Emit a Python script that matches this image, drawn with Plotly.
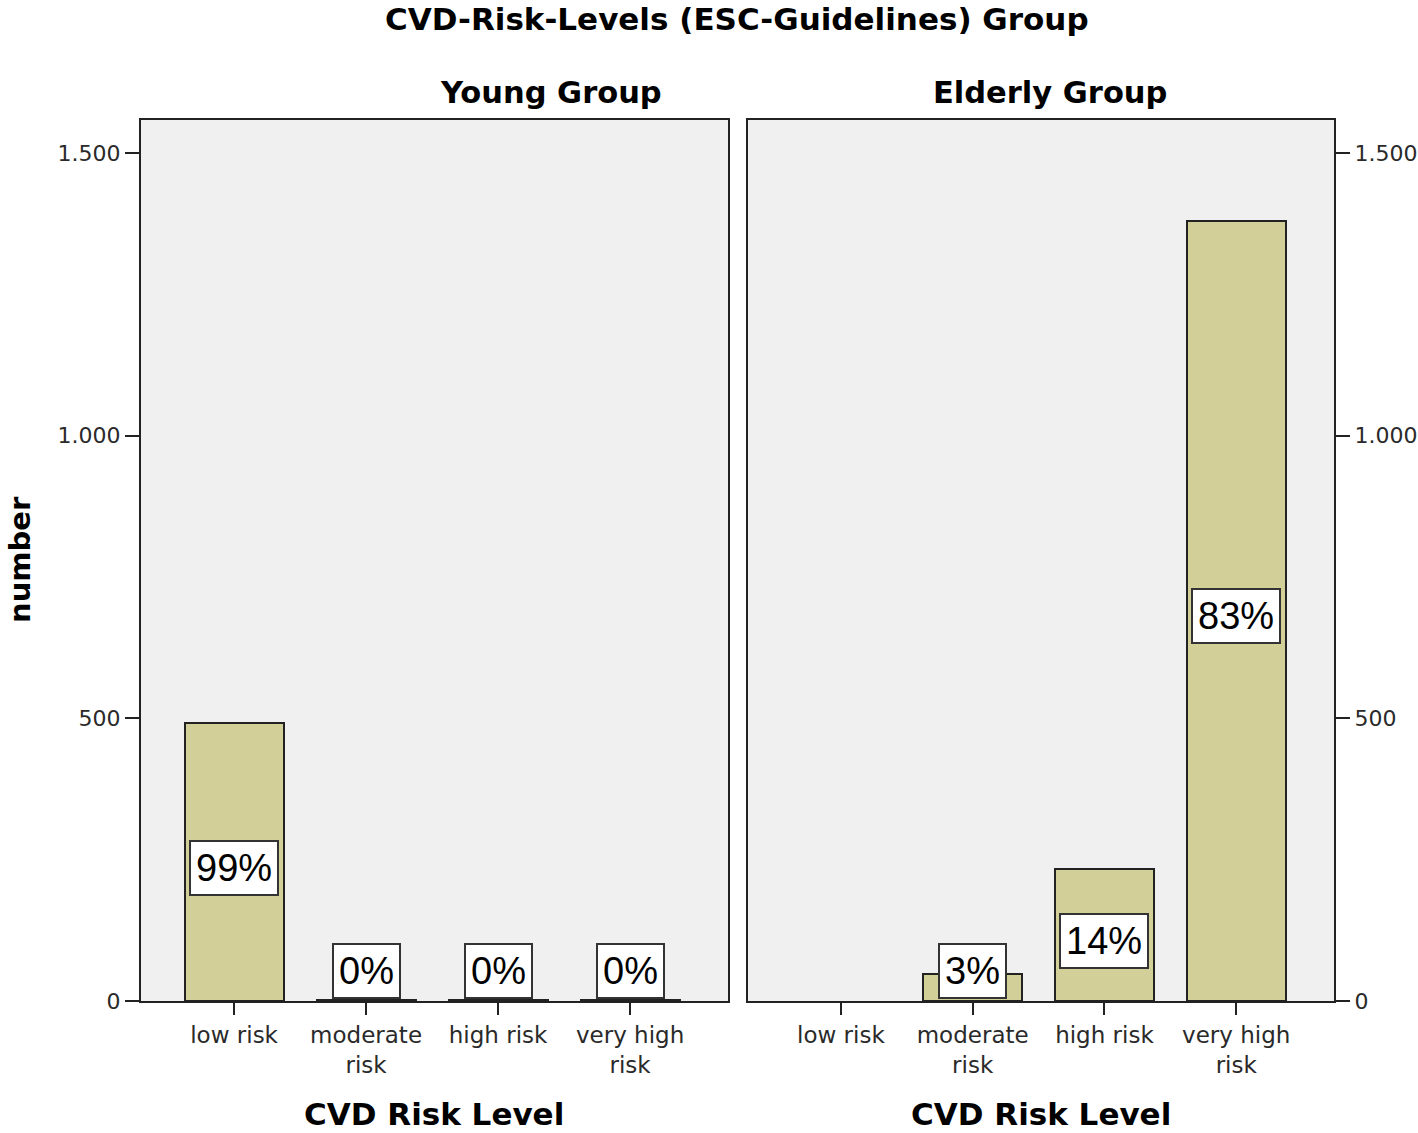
import plotly.graph_objects as go

categories = ["low risk", "moderate<br>risk", "high risk", "very high<br>risk"]
young_counts = [492, 2, 1, 1]
elderly_counts = [0, 48, 233, 1380]
young_pct = ["99%", "0%", "0%", "0%"]
elderly_pct = [None, "3%", "14%", "83%"]
y_tickvals = [0, 500, 1000, 1500]
y_ticktext = ["0", "500", "1.000", "1.500"]

W, H = 1418, 1133
BAR = "#D3CF98"
SANS = "DejaVu Sans, Verdana, sans-serif"
ARIAL = "Liberation Sans, Arial, sans-serif"


def px(x):
    return x / W


def py(y):
    return 1 - y / H


def bar_trace(counts, xa, ya):
    return go.Bar(x=list(range(len(counts))), y=counts, width=0.75,
                  marker=dict(color=BAR,
                              line=dict(color="#222", width=[2 if v > 0 else 0 for v in counts])),
                  xaxis=xa, yaxis=ya, showlegend=False, hoverinfo="y")


fig = go.Figure()
fig.add_trace(bar_trace(young_counts, "x", "y"))
fig.add_trace(bar_trace(elderly_counts, "x2", "y2"))

xr = [-0.705, 3.742]
yr = [0, 1558]
common_x = dict(range=xr, tickmode="array", tickvals=list(range(4)), ticktext=categories,
                ticks="outside", ticklen=12, tickwidth=2, tickcolor="#222",
                showline=True, linecolor="#222", linewidth=2, mirror=True,
                showgrid=False, zeroline=False, fixedrange=True, automargin=False,
                tickfont=dict(family=SANS, size=23, color="#2a2a2a"))
common_y = dict(range=yr, tickmode="array", tickvals=y_tickvals, ticktext=y_ticktext,
                ticks="outside", ticklen=14, tickwidth=2, tickcolor="#222",
                showline=True, linecolor="#222", linewidth=2, mirror=True,
                showgrid=False, zeroline=False, fixedrange=True, automargin=False,
                tickfont=dict(family=SANS, size=22, color="#2a2a2a"))

fig.update_layout(
    width=W, height=H,
    margin=dict(l=0, r=0, t=0, b=0, pad=0, autoexpand=False),
    paper_bgcolor="white", plot_bgcolor="#F0F0F0",
    bargap=0,
    xaxis=dict(domain=[px(141), px(728)], anchor="y", **common_x),
    yaxis=dict(domain=[py(1001), py(120)], anchor="x", side="left", **common_y),
    xaxis2=dict(domain=[px(748), px(1334)], anchor="y2", **common_x),
    yaxis2=dict(domain=[py(1001), py(120)], anchor="x2", side="right", **common_y),
)


def add_labels(counts, labels, xref, yref):
    for i, (c, t) in enumerate(zip(counts, labels)):
        if t is None:
            continue
        ypos = max(c / 2 - 10, 53)
        fig.add_annotation(x=i, y=ypos, xref=xref, yref=yref, text=t, showarrow=False,
                           xanchor="center", yanchor="middle",
                           font=dict(family=ARIAL, size=38, color="black"),
                           bgcolor="white", bordercolor="#333", borderwidth=2,
                           borderpad=5)


add_labels(young_counts, young_pct, "x", "y")
add_labels(elderly_counts, elderly_pct, "x2", "y2")


def label(x, y, text, size, angle=0):
    fig.add_annotation(x=px(x), y=py(y), xref="paper", yref="paper",
                       text=f"<b>{text}</b>", showarrow=False, textangle=angle,
                       xanchor="center", yanchor="middle",
                       font=dict(family=SANS, size=size, color="black"))


label(737, 19, "CVD-Risk-Levels (ESC-Guidelines) Group", 31)
label(551, 92, "Young Group", 30.5)
label(1050, 92, "Elderly Group", 30.5)
label(434, 1114, "CVD Risk Level", 31)
label(1041, 1114, "CVD Risk Level", 31)
label(20, 560, "number", 29, angle=-90)

fig.write_html(
    "out.html",
    config={"displayModeBar": False},
    post_script=(
        "document.documentElement.style.margin='0';"
        "document.body.style.margin='0';document.body.style.padding='0';"
        "document.documentElement.style.overflow='hidden';"
    ),
)
